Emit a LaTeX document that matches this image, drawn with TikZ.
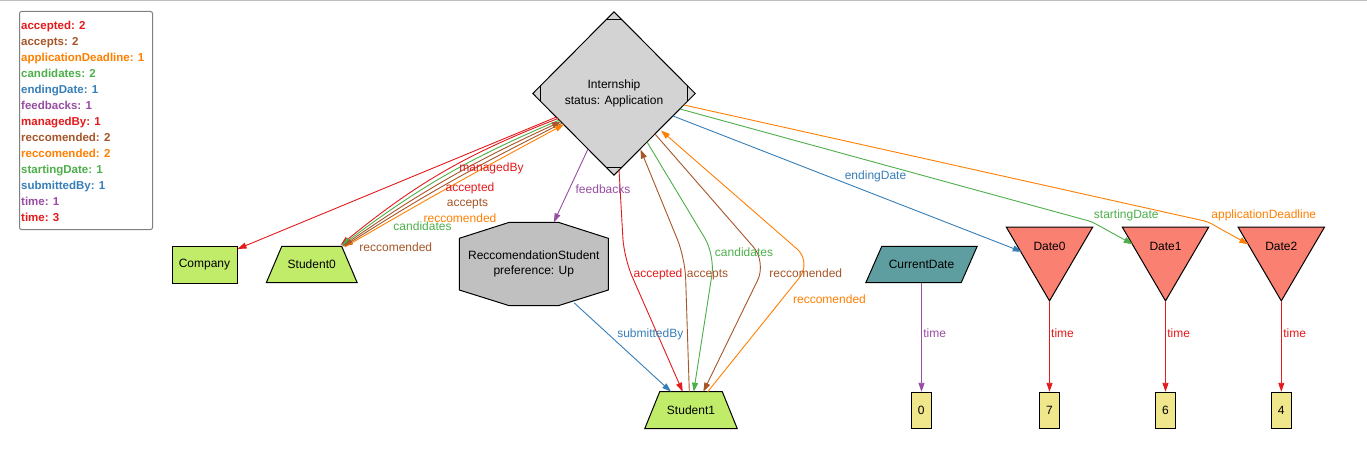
\documentclass[tikz,border=0pt]{standalone}
\usepackage{fontspec}
\setmainfont{Liberation Sans}
\usetikzlibrary{arrows.meta,backgrounds}
\definecolor{cred}{HTML}{E41A1C}
\definecolor{cgreen}{HTML}{4DAF4A}
\definecolor{cblue}{HTML}{377EB8}
\definecolor{cpurple}{HTML}{984EA3}
\definecolor{corange}{HTML}{FF7F00}
\definecolor{cbrown}{HTML}{A65628}
\definecolor{ngreen}{HTML}{C0EC6A}
\definecolor{ngray}{HTML}{D3D3D3}
\definecolor{nsilver}{HTML}{C0C0C0}
\definecolor{nteal}{HTML}{5F9EA0}
\definecolor{nsalmon}{HTML}{FA8072}
\definecolor{nkhaki}{HTML}{F0E68C}
\begin{document}
\begin{tikzpicture}[x=1pt,y=-1pt,
  every node/.style={font=\fontsize{12}{15.4}\selectfont},
  shp/.style={draw=black,line width=1pt},
  lbl/.style={inner sep=0pt,text height=9pt,text depth=0pt},
  lg/.style={lbl,anchor=west,font=\fontsize{11.5}{14}\selectfont\bfseries},
  con/.style={line width=0.9pt,-{Triangle[length=9pt,width=6pt]}},
  valbox/.style={shp,fill=nkhaki,minimum width=20.5pt,minimum height=36pt,inner sep=0pt}]
\useasboundingbox (0,0) rectangle (1367,457);
\begin{scope}[on background layer]
\fill[white] (0,0) rectangle (1367,457);
\end{scope}
\draw[black!25,line width=1.5pt] (0,0.75) -- (1367,0.75);

% legend
\node[draw=gray,line width=1pt,rounded corners=2pt,anchor=north west,inner sep=0pt,
      minimum width=133pt,minimum height=218pt] (legend) at (19,11) {};
\foreach \t/\c [count=\i from 0] in {accepted: 2/cred,accepts: 2/cbrown,
   applicationDeadline: 1/corange,candidates: 2/cgreen,endingDate: 1/cblue,
   feedbacks: 1/cpurple,managedBy: 1/cred,reccomended: 2/cbrown,
   reccomended: 2/corange,startingDate: 1/cgreen,submittedBy: 1/cblue,
   time: 1/cpurple,time: 3/cred}
  \node[lg,text=\c] (lg\i) at (21,{24.7+16.05*\i}) {\t};

% nodes
\node[shp,fill=ngreen,minimum width=65pt,minimum height=37pt,inner sep=0pt] (C) at (204.5,264.5) {Company};
\node[inner sep=0pt,minimum width=90.5pt,minimum height=36pt] (S0) at (311.75,264.5) {Student0};
\node[inner sep=0pt,minimum width=92pt,minimum height=36.6pt] (S1) at (691,410) {Student1};
\node[inner sep=0pt,minimum width=162pt,minimum height=163pt,align=center] (I) at (614,93.5) {Internship\\status: Application};
\node[inner sep=0pt,minimum width=149pt,minimum height=83.4pt,align=center] (R) at (533.8,264) {ReccomendationStudent\\preference: Up};
\node[inner sep=0pt,minimum width=111pt,minimum height=36pt] (CD) at (921.5,264.5) {CurrentDate};
\node[inner sep=0pt,minimum width=86pt,minimum height=73.4pt] (D0) at (1049.5,264) {};
\node[inner sep=0pt,minimum width=86pt,minimum height=73.4pt] (D1) at (1165.5,264) {};
\node[inner sep=0pt,minimum width=86pt,minimum height=73.4pt] (D2) at (1281.3,264) {};
\node[lbl] (D0t) at (1049.5,245.7) {Date0};
\node[lbl] (D1t) at (1165.5,245.7) {Date1};
\node[lbl] (D2t) at (1281.3,245.7) {Date2};
\node[valbox] (V0) at (921.3,410.3) {0};
\node[valbox] (V7) at (1049.5,410.3) {7};
\node[valbox] (V6) at (1165.5,410.3) {6};
\node[valbox] (V4) at (1281.3,410.3) {4};

% shapes
\begin{scope}[on background layer]
\filldraw[shp,fill=ngreen] (S0.south west) -- (S0.south east) -- ([xshift=-15.5pt]S0.north east) -- ([xshift=15.5pt]S0.north west) -- cycle;
\filldraw[shp,fill=ngreen] (S1.south west) -- (S1.south east) -- ([xshift=-15pt]S1.north east) -- ([xshift=15pt]S1.north west) -- cycle;
\filldraw[shp,fill=ngray] (I.north) -- (I.east) -- (I.south) -- (I.west) -- cycle;
\draw[shp] ([shift={(-8,8)}]I.north) -- ([shift={(8,8)}]I.north);
\draw[shp] ([shift={(-8,-8)}]I.south) -- ([shift={(8,-8)}]I.south);
\draw[shp] ([shift={(8,-8)}]I.west) -- ([shift={(8,8)}]I.west);
\draw[shp] ([shift={(-8,-8)}]I.east) -- ([shift={(-8,8)}]I.east);
\filldraw[shp,fill=nsilver] ([shift={(-24.5,-41.7)}]R.center) -- ([shift={(24.5,-41.7)}]R.center)
  -- ([shift={(74.5,-25.7)}]R.center) -- ([shift={(74.5,26)}]R.center)
  -- ([shift={(24.5,41.7)}]R.center) -- ([shift={(-24.5,41.7)}]R.center)
  -- ([shift={(-74.5,26)}]R.center) -- ([shift={(-74.5,-25.7)}]R.center) -- cycle;
\filldraw[shp,fill=nteal] ([xshift=16pt]CD.north west) -- (CD.north east) -- ([xshift=-16pt]CD.south east) -- (CD.south west) -- cycle;
\filldraw[shp,fill=nsalmon] (D0.north west) -- (D0.north east) -- (D0.south) -- cycle;
\filldraw[shp,fill=nsalmon] (D1.north west) -- (D1.north east) -- (D1.south) -- cycle;
\filldraw[shp,fill=nsalmon] (D2.north west) -- (D2.north east) -- (D2.south) -- cycle;
\end{scope}

% waypoints
\coordinate (wAcc) at (624,258);
\coordinate (wAcs) at (685,258);
\coordinate (wCan) at (715,255);
\coordinate (wRcB) at (766.5,262);
\coordinate (wRcO) at (812,262);
\coordinate (wSt) at (1091.7,221.7);
\coordinate (wAD) at (1207.7,221.7);

% edges
\draw[con,cred] ([shift={(-57.5,23.5)}]I.center) -- ([shift={(0,-15.5)}]C.east);
\draw[con,cred] ([shift={(-56,25)}]I.center) to[bend right=9] ([shift={(29,-19.5)}]S0.center);
\draw[con,cgreen] ([shift={(-54.5,26.5)}]I.center) to[bend right=7] ([shift={(30,-19)}]S0.center);
\draw[con,cbrown] ([shift={(31,-18.5)}]S0.center) to[bend left=5] ([shift={(-53,28)}]I.center);
\draw[con,cbrown] ([shift={(-51.5,29.5)}]I.center) to[bend right=3] ([shift={(32,-18)}]S0.center);
\draw[con,corange] ([shift={(33,-17.5)}]S0.center) to[bend left=1] ([shift={(-50,31)}]I.center);

\draw[con,cpurple] ([shift={(-26,55.5)}]I.center) -- ([shift={(20,-41.7)}]R.center);
\draw[con,cblue] ([shift={(40.5,39)}]R.center) -- ([shift={(-20,-18.3)}]S1.center);

\draw[con,cred,rounded corners=20pt] ([shift={(5,76)}]I.center) -- (wAcc) -- ([shift={(-8.3,-18.3)}]S1.center);
\draw[con,cbrown,rounded corners=20pt] ([shift={(-1.7,-18.3)}]S1.center) -- (wAcs) -- ([shift={(26.5,56)}]I.center);
\draw[con,cgreen,rounded corners=20pt] ([shift={(33,48.5)}]I.center) -- (wCan) -- ([shift={(2.7,-18.3)}]S1.center);
\draw[con,cbrown,rounded corners=20pt] ([shift={(41,40.5)}]I.center) -- (wRcB) -- ([shift={(12.3,-18.3)}]S1.center);
\draw[con,corange,rounded corners=20pt] ([shift={(16.7,-18.3)}]S1.center) -- (wRcO) -- ([shift={(47,37)}]I.center);

\draw[con,cblue] ([shift={(59,22.5)}]I.center) -- ([shift={(-27.8,-12.3)}]D0.center);
\draw[con,cgreen,rounded corners=4pt] ([shift={(66,15.5)}]I.center) -- (wSt) -- ([shift={(-32.8,-19.7)}]D1.center);
\draw[con,corange,rounded corners=4pt] ([shift={(70,11.5)}]I.center) -- (wAD) -- ([shift={(-33,-19.7)}]D2.center);

\draw[con,cpurple] (CD.south) -- (CD.south |- V0.north);
\draw[con,cred] (D0.south) -- (V7.north);
\draw[con,cred] (D1.south) -- (V6.north);
\draw[con,cred] (D2.south) -- (V4.north);

% labels
\node[lbl,text=cred] (l1) at (491.5,166.7) {managedBy};
\node[lbl,text=cred] (l2) at (470,186.7) {accepted};
\node[lbl,text=cbrown] (l3) at (467.5,201.7) {accepts};
\node[lbl,text=corange] (l4) at (460,217.7) {reccomended};
\node[lbl,text=cgreen] (l5) at (422.5,226) {candidates};
\node[lbl,text=cbrown] (l6) at (395.8,247.3) {reccomended};
\node[lbl,text=cpurple] (l7) at (603,189) {feedbacks};
\node[lbl,text=cred] (l8) at (658,273) {accepted};
\node[lbl,text=cbrown] (l9) at (707.5,273) {accepts};
\node[lbl,text=cgreen] (l10) at (744,251.7) {candidates};
\node[lbl,text=cbrown] (l11) at (805.8,273) {reccomended};
\node[lbl,text=corange] (l12) at (829.5,298.7) {reccomended};
\node[lbl,text=cblue] (l13) at (650.3,333) {submittedBy};
\node[lbl,text=cblue] (l14) at (875.5,175) {endingDate};
\node[lbl,text=cgreen] (l15) at (1126.3,214.3) {startingDate};
\node[lbl,text=corange] (l16) at (1263.8,214.3) {applicationDeadline};
\node[lbl,text=cpurple] (l17) at (934.7,332.7) {time};
\node[lbl,text=cred] (l18) at (1062.5,332.7) {time};
\node[lbl,text=cred] (l19) at (1178.7,332.7) {time};
\node[lbl,text=cred] (l20) at (1294.7,332.7) {time};
\end{tikzpicture}
\end{document}
